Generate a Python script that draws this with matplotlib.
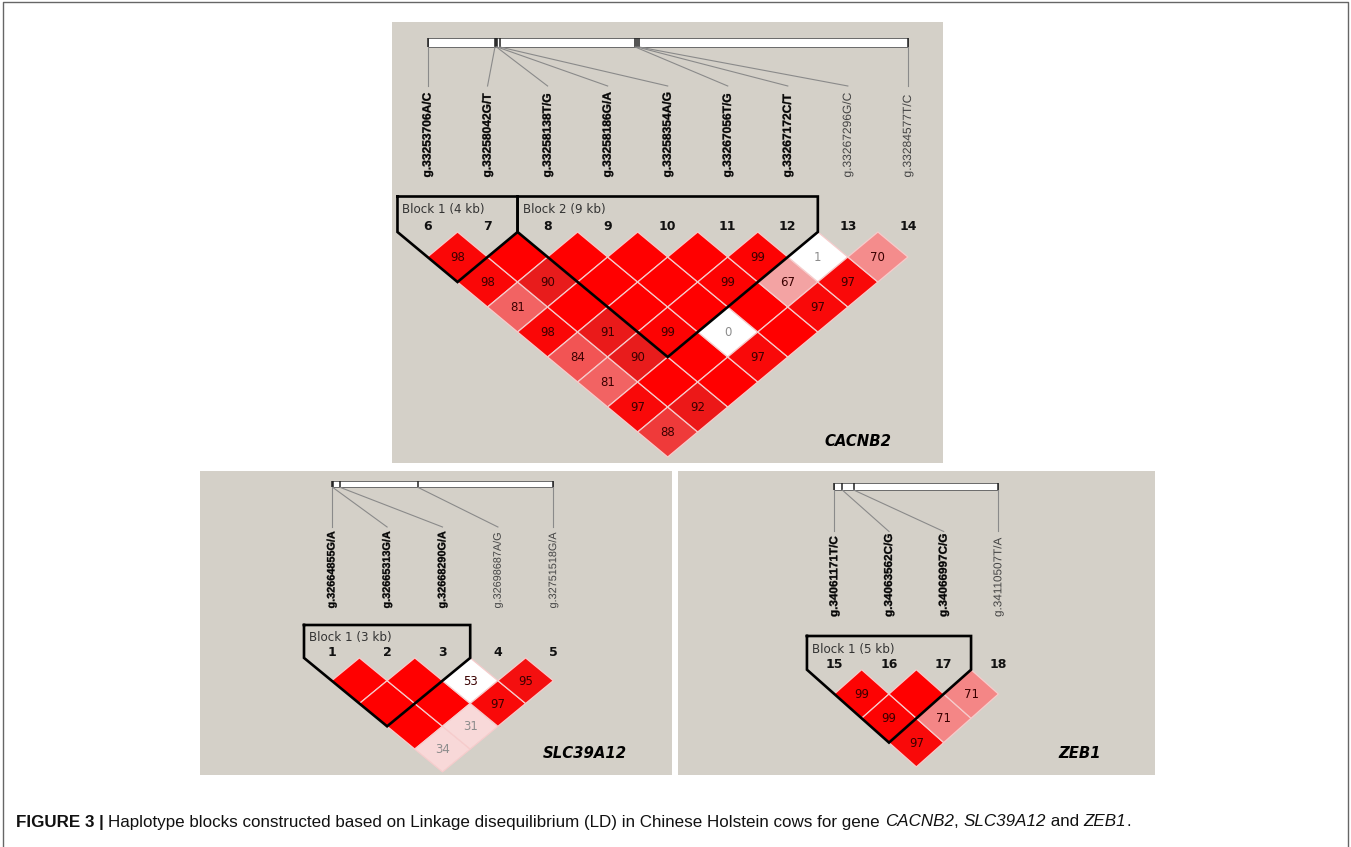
import re
import matplotlib
matplotlib.use('Agg')
import matplotlib.pyplot as plt
from matplotlib import font_manager
from matplotlib.font_manager import FontProperties
from matplotlib.patches import Polygon, Rectangle, PathPatch
from matplotlib.textpath import TextPath
from matplotlib.transforms import Affine2D
from matplotlib.colors import LinearSegmentedColormap

# ---------------- data ----------------
cacnb2_snps = ['g.33253706A/C', 'g.33258042G/T', 'g.33258138T/G', 'g.33258186G/A', 'g.33258354A/G',
               'g.33267056T/G', 'g.33267172C/T', 'g.33267296G/C', 'g.33284577T/C']
cacnb2_ids = [6, 7, 8, 9, 10, 11, 12, 13, 14]
# D' (x100) : row i = pairs (i,i+1), (i,i+2), ... ; 100 = complete LD (no number printed)
cacnb2_dp = [[98, 98, 81, 98, 84, 81, 97, 88],
             [100, 90, 100, 91, 90, 100, 92],
             [100, 100, 100, 99, 100, 100],
             [100, 100, 100, 0, 97],
             [100, 99, 100, 100],
             [99, 67, 97],
             [1, 97],
             [70]]
cacnb2_weak = [(6, 7), (3, 7)]          # LOD < 2
cacnb2_blocks = [(0, 1, 'Block 1 (4 kb)'), (2, 6, 'Block 2 (9 kb)')]

slc_snps = ['g.32664855G/A', 'g.32665313G/A', 'g.32668290G/A', 'g.32698687A/G', 'g.32751518G/A']
slc_ids = [1, 2, 3, 4, 5]
slc_dp = [[100, 100, 100, 34],
          [100, 100, 31],
          [53, 97],
          [95]]
slc_weak = [(2, 3)]
slc_blocks = [(0, 2, 'Block 1 (3 kb)')]

zeb_snps = ['g.34061171T/C', 'g.34063562C/G', 'g.34066997C/G', 'g.34110507T/A']
zeb_ids = [15, 16, 17, 18]
zeb_dp = [[99, 99, 97],
          [100, 71],
          [71]]
zeb_weak = []
zeb_blocks = [(0, 2, 'Block 1 (5 kb)')]

caption = [('FIGURE 3 | ', 'bold', 'normal'),
           ('Haplotype blocks constructed based on Linkage disequilibrium (LD) in Chinese Holstein cows for gene ', 'normal', 'normal'),
           ('CACNB2', 'normal', 'italic'), (', ', 'normal', 'normal'),
           ('SLC39A12', 'normal', 'italic'), (' and ', 'normal', 'normal'),
           ('ZEB1', 'normal', 'italic'), ('.', 'normal', 'normal')]

# ---------------- layout (pixels) ----------------
lay_cacnb2 = dict(bg=(392, 22, 943, 463), x0=427.5, dx=60.05, bar=(38.5, 47), line_end=86,
                  lab_bot=177, lab_len=84, lab_h=11.2, box_top=196.5, blk_y=209, num_y=226.5,
                  row1=257, dy=25, gene=(858, 442))
lay_slc = dict(bg=(200, 471, 672, 775), x0=331.7, dx=55.4, bar=(481, 487.5), line_end=527,
               lab_bot=608, lab_len=76.5, lab_h=10.2, box_top=625, blk_y=638, num_y=653,
               row1=680.7, dy=22.8, gene=(585, 753))
lay_zeb = dict(bg=(678, 471, 1155, 775), x0=834.3, dx=54.7, bar=(483.5, 490), line_end=531.5,
               lab_bot=616.5, lab_len=80, lab_h=10.7, box_top=636, blk_y=649, num_y=665,
               row1=694, dy=24.3, gene=(1080, 753))

names = {f.name for f in font_manager.fontManager.ttflist}
lab_font = 'Liberation Sans' if 'Liberation Sans' in names else 'DejaVu Sans'

ld_cmap = LinearSegmentedColormap.from_list('ld', [
    (0.0, '#fbe6e6'), (0.34, '#f8d8d8'), (0.67, '#f3a3a3'), (0.71, '#f48686'),
    (0.81, '#f26464'), (0.84, '#f25656'), (0.88, '#f03e3e'), (0.90, '#e81c1c'),
    (0.92, '#ec1818'), (0.97, '#f80a0a'), (1.0, '#ff0000')])

fig = plt.figure(figsize=(13.51, 8.47), dpi=100)
ax = fig.add_axes([0, 0, 1, 1])
ax.set_xlim(0, 1351)
ax.set_ylim(847, 0)
ax.axis('off')

# outer frame
ax.plot([2.5, 2.5, 1348, 1348], [850, 2.5, 2.5, 850], color='#666666', lw=1)


def vertical_label(x, ybot, s, bold, s_l, s_h, color):
    # condensed, rotated marker name (text reads bottom to top)
    fp = FontProperties(family=lab_font, weight='bold' if bold else 'normal')
    tp = TextPath((0, 0), s, size=10, prop=fp)
    e = tp.get_extents()
    tr = Affine2D.from_values(0, -s_l, -s_h, 0, x + s_h * (e.y0 + e.y1) / 2, ybot + s_l * e.x0)
    ax.add_patch(PathPatch(tp, transform=tr + ax.transData, fc=color, ec=color,
                           lw=0.25 if bold else 0))


def draw_panel(snps, ids, dp, weak, blocks, gene, L):
    x1, y1, x2, y2 = L['bg']
    ax.add_patch(Rectangle((x1, y1), x2 - x1, y2 - y1, fc='#d4d0c8', ec='none'))
    n = len(snps)
    mx = [L['x0'] + L['dx'] * k for k in range(n)]
    dx2, dy = L['dx'] / 2, L['dy']

    # chromosome bar with physical positions
    pos = [int(re.search(r'g\.(\d+)', s).group(1)) for s in snps]
    btop, bbot = L['bar']
    bx = [mx[0] + (p - pos[0]) / (pos[-1] - pos[0]) * (mx[-1] - mx[0]) for p in pos]
    ax.add_patch(Rectangle((mx[0], btop), mx[-1] - mx[0], bbot - btop, fc='white', ec='#6a6a6a', lw=0.7))
    ax.vlines(bx, btop, bbot, color='#222222', lw=1.1)

    in_block = set()
    for a, b, _ in blocks:
        in_block.update(range(a, b + 1))

    # scale of the condensed labels, taken from the first name
    e = TextPath((0, 0), snps[0], size=10, prop=FontProperties(family=lab_font, weight='bold')).get_extents()
    s_l = L['lab_len'] / e.width
    s_h = L['lab_h'] / e.height

    for k in range(n):
        ax.plot([bx[k], mx[k]], [bbot, L['line_end']], color='#8a8a8a', lw=0.8)
        vertical_label(mx[k], L['lab_bot'], snps[k], k in in_block, s_l, s_h,
                       '#050505' if k in in_block else '#444444')
        ax.text(mx[k], L['num_y'], str(ids[k]), ha='center', va='center',
                fontsize=9, fontweight='bold', color='#111111')

    # LD diamonds
    for i, row in enumerate(dp):
        for k, v in enumerate(row):
            j = i + 1 + k
            cx = L['x0'] + L['dx'] * (i + j) / 2
            cy = L['row1'] + dy * (j - i - 1)
            fc = 'white' if (i, j) in weak else ld_cmap(v / 100)
            ax.add_patch(Polygon([(cx - dx2, cy), (cx, cy - dy), (cx + dx2, cy), (cx, cy + dy)],
                                 closed=True, fc=fc, ec='#f6cccc', lw=0.9))
            if v < 100:
                ax.text(cx, cy + 0.5, str(v), ha='center', va='center', fontsize=8.5,
                        color='#8c8c8c' if v < 50 else '#3a0000')

    # haplotype block outlines
    top_row = L['row1'] - dy
    for a, b, name in blocks:
        xl, xr = mx[a] - dx2, mx[b] + dx2
        bx_c = (mx[a] + mx[b]) / 2
        by_c = L['row1'] + dy * (b - a - 1) + dy
        ax.plot([xl, xr, xr, bx_c, xl, xl], [L['box_top'], L['box_top'], top_row, by_c, top_row, L['box_top']],
                color='black', lw=1.9, solid_joinstyle='miter', solid_capstyle='projecting')
        ax.text(xl + 5, L['blk_y'], name, ha='left', va='center', fontsize=8.6, color='#333333')

    ax.text(L['gene'][0], L['gene'][1], gene, ha='center', va='center', fontsize=10.7,
            fontweight='bold', fontstyle='italic', color='black')


draw_panel(cacnb2_snps, cacnb2_ids, cacnb2_dp, cacnb2_weak, cacnb2_blocks, 'CACNB2', lay_cacnb2)
draw_panel(slc_snps, slc_ids, slc_dp, slc_weak, slc_blocks, 'SLC39A12', lay_slc)
draw_panel(zeb_snps, zeb_ids, zeb_dp, zeb_weak, zeb_blocks, 'ZEB1', lay_zeb)

# caption, pieces laid out one after another and fitted to the reference width
cap_font = lab_font
renderer = fig.canvas.get_renderer()


def seg_width(s, w, st, size):
    t = ax.text(0, 0, s + '.', fontsize=size, fontweight=w, fontstyle=st, family=cap_font)
    d = ax.text(0, 0, '.', fontsize=size, fontweight=w, fontstyle=st, family=cap_font)
    res = t.get_window_extent(renderer).width - d.get_window_extent(renderer).width
    t.remove()
    d.remove()
    return res


base = 12
total = sum(seg_width(s, w, st, base) for s, w, st in caption)
size = base * (1128 - 16) / total
x = 16
for s, w, st in caption:
    ax.text(x, 822, s, fontsize=size, fontweight=w, fontstyle=st, family=cap_font,
            ha='left', va='center', color='#111111')
    x += seg_width(s, w, st, size)

fig.savefig('out.png', dpi=100)
